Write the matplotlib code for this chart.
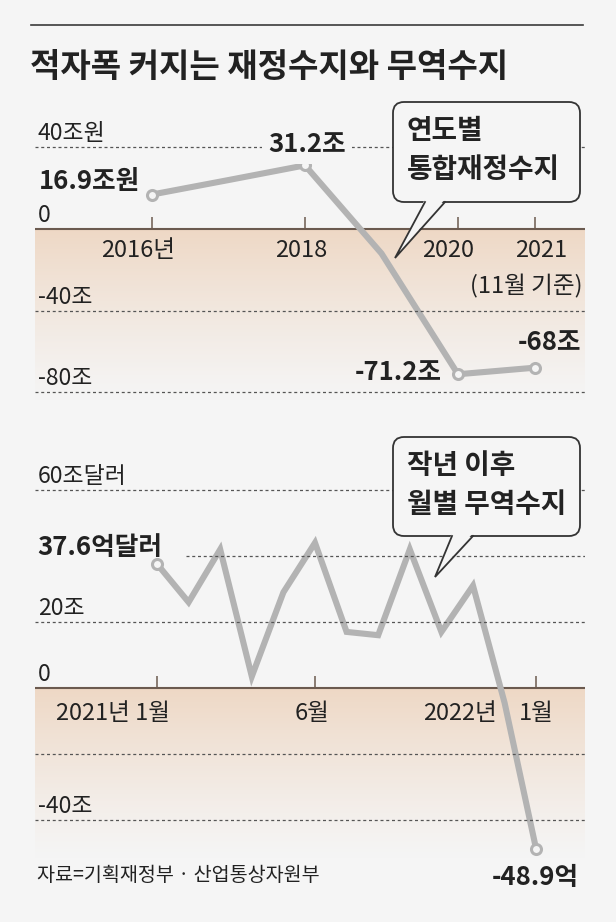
# 적자폭 커지는 재정수지와 무역수지 - 신문 그래픽 재현
import numpy as np
import matplotlib
matplotlib.use("Agg")
import matplotlib.pyplot as plt
from matplotlib.patches import FancyBboxPatch, Polygon

plt.rcParams["font.family"] = ["Noto Sans CJK KR", "DejaVu Sans"]

BG = "#f5f5f5"
LINE = "#b3b3b3"
INK = "#222222"
AXIS = "#6b5a4f"
GRID = "#555555"
PEACH = np.array([0.935, 0.850, 0.775])

# ── 데이터 ───────────────────────────────────────────────────────────────────
years = [2016, 2017, 2018, 2019, 2020, 2021]
fiscal = [16.9, 24.0, 31.2, -12.0, -71.2, -68.0]
fiscal_marks = [0, 2, 4, 5]
fiscal_ticks = [2016, 2018, 2020, 2021]
fiscal_tick_labels = ["2016년", "2018", "2020", "2021"]
fiscal_grid = [40, -40, -80]
fiscal_ylabels = {40: "40조원", 0: "0", -40: "-40조", -80: "-80조"}

months = list(range(13))          # 2021년 1월 ~ 2022년 1월
trade = [37.6, 26.0, 42.0, 3.5, 29.0, 44.0, 17.0, 16.0, 42.0, 17.0, 31.0, -4.5, -48.9]
trade_marks = [0, 12]
trade_ticks = [0, 5, 12]
trade_tick_labels = ["2021년 1월", "6월", "1월"]
trade_grid = [60, 40, 20, -20, -40]
trade_ylabels = {60: "60조달러", 20: "20조", 0: "0", -40: "-40조"}

W, H = 616, 922
fig = plt.figure(figsize=(W / 100, H / 100), dpi=100)
fig.patch.set_facecolor(BG)


def px_axes(x0, y0, x1, y1):
    ax = fig.add_axes([x0 / W, 1 - y1 / H, (x1 - x0) / W, (y1 - y0) / H])
    ax.set_facecolor(BG)
    ax.axis("off")
    return ax


def chart(ax, xs, ys, marks, grid, ylabels, tick_x, tick_len, xlim, ylim, grid_cut):
    ax.set_xlim(*xlim); ax.set_ylim(*ylim)
    # 0 아래 살구색 그라데이션
    n = 200
    grad = np.zeros((n, 2, 4))
    grad[:, :, :3] = PEACH
    grad[:, :, 3] = np.linspace(1.0, 0.0, n)[:, None] ** 1.2
    ax.imshow(grad, extent=[xlim[0], xlim[1], ylim[0], 0], aspect="auto",
              origin="upper", zorder=0.5, interpolation="bilinear")
    ax.axhline(0, color=AXIS, lw=1.5, zorder=2)
    ax.vlines(tick_x, 0, tick_len, color=AXIS, lw=1.1, zorder=2)
    for g in grid:
        ax.axhline(g, xmin=grid_cut.get(g, 0), color=GRID, lw=0.9,
                   ls=(0, (2.4, 2.2)), zorder=4)
    for v, lab in ylabels.items():
        ax.annotate(lab, xy=(0.005, v), xycoords=("axes fraction", "data"),
                    xytext=(0, 7), textcoords="offset pixels", ha="left", va="baseline",
                    fontsize=16.5, color=INK)
    ax.plot(xs, ys, color=LINE, lw=4.4, solid_joinstyle="miter", solid_capstyle="butt", zorder=3)
    ax.plot([xs[i] for i in marks], [ys[i] for i in marks], "o", ms=7.2, mfc=BG,
            mec=LINE, mew=2.2, zorder=5)


def label(ax, x, y, text, dx, dy, ha, size=18.5, weight="bold", bg=False):
    kw = {}
    if bg:
        kw["bbox"] = dict(boxstyle="square,pad=0.25", fc=BG, ec="none")
    ax.annotate(text, xy=(x, y), xytext=(dx, dy), textcoords="offset pixels",
                ha=ha, va="center", fontsize=size, fontweight=weight, color=INK,
                zorder=6, **kw)


TICK = 17

# ── 위: 연도별 통합재정수지 ──────────────────────────────────────────────────
ax1 = px_axes(35, 100, 585, 402)
chart(ax1, years, fiscal, fiscal_marks, fiscal_grid, fiscal_ylabels, fiscal_ticks,
      12 / 2.04, (2016 - 117 / 76.5, 2016 + 433 / 76.5), (-173 / 2.04, 129 / 2.04), {})
label(ax1, years[0], fiscal[0], "16.9조원", -12, 13, "right")
label(ax1, years[2], fiscal[2], "31.2조", 2, 21, "center", bg=True)
label(ax1, years[4], fiscal[4], "-71.2조", -16, 2, "right")
label(ax1, years[5], fiscal[5], "-68조", 15, 25, "center")
for x, t, dx in zip(fiscal_ticks, fiscal_tick_labels, [-14, -4, -10, 7]):
    label(ax1, x, 0, t, dx, -21, "center", size=TICK, weight="normal")
label(ax1, years[5], 0, "(11월 기준)", 48, -57, "right", size=TICK, weight="normal")

# ── 아래: 월별 무역수지 ──────────────────────────────────────────────────────
ax2 = px_axes(35, 430, 585, 860)
chart(ax2, months, trade, trade_marks, trade_grid, trade_ylabels,
      trade_ticks, 12 / 3.3, (-122 / 31.6, 428 / 31.6), (-172 / 3.3, 258 / 3.3),
      {40: (186 - 35) / 550})
label(ax2, months[0], trade[0], "37.6억달러", 5, 16, "right")
label(ax2, months[12], trade[12], "-48.9억", 43, -28, "right")
label(ax2, trade_ticks[0], 0, trade_tick_labels[0], 13, -25, "right", size=TICK, weight="normal")
label(ax2, trade_ticks[1], 0, trade_tick_labels[1], -3, -25, "center", size=TICK, weight="normal")
label(ax2, trade_ticks[2], 0, trade_tick_labels[2], 0, -25, "center", size=TICK, weight="normal")
label(ax2, trade_ticks[2], 0, "2022년", -39, -25, "right", size=TICK, weight="normal")

# ── 제목, 말풍선, 출처 (픽셀 좌표 오버레이) ──────────────────────────────────
ov = fig.add_axes([0, 0, 1, 1])
ov.set_xlim(0, W); ov.set_ylim(H, 0); ov.axis("off"); ov.patch.set_alpha(0)
ov.set_zorder(10)
ov.plot([31, 583], [25, 25], color="#3a3a3a", lw=1.2)
ov.text(30, 68, "적자폭 커지는 재정수지와 무역수지", fontsize=23.8, fontweight="bold",
        color=INK, ha="left", va="center")


def callout(x0, y0, x1, y1, b0, b1, tip, lines, ys):
    ov.add_patch(FancyBboxPatch((x0, y0), x1 - x0, y1 - y0,
                                boxstyle="round,pad=0,rounding_size=11",
                                fc=BG, ec="#333333", lw=1.3, zorder=10))
    ov.add_patch(Polygon([(b0, y1 - 3), tip, (b1, y1 - 3)], closed=True, fc=BG,
                         ec="none", zorder=11))
    ov.plot([b0, tip[0], b1], [y1, tip[1], y1], color="#333333", lw=1.3,
            solid_joinstyle="miter", zorder=12)
    for t, y in zip(lines, ys):
        ov.text(x0 + 14, y, t, fontsize=20, fontweight="bold", color=INK,
                ha="left", va="center", zorder=13)


callout(393, 102, 580, 202, 425, 445, (395, 258), ["연도별", "통합재정수지"], [131, 170])
callout(393, 437, 580, 536, 452, 473, (435, 577), ["작년 이후", "월별 무역수지"], [466, 505])

ov.text(37, 875, "자료=기획재정부 · 산업통상자원부", fontsize=14.1, color=INK,
        ha="left", va="center")

fig.savefig("out.png", dpi=100, facecolor=BG)
